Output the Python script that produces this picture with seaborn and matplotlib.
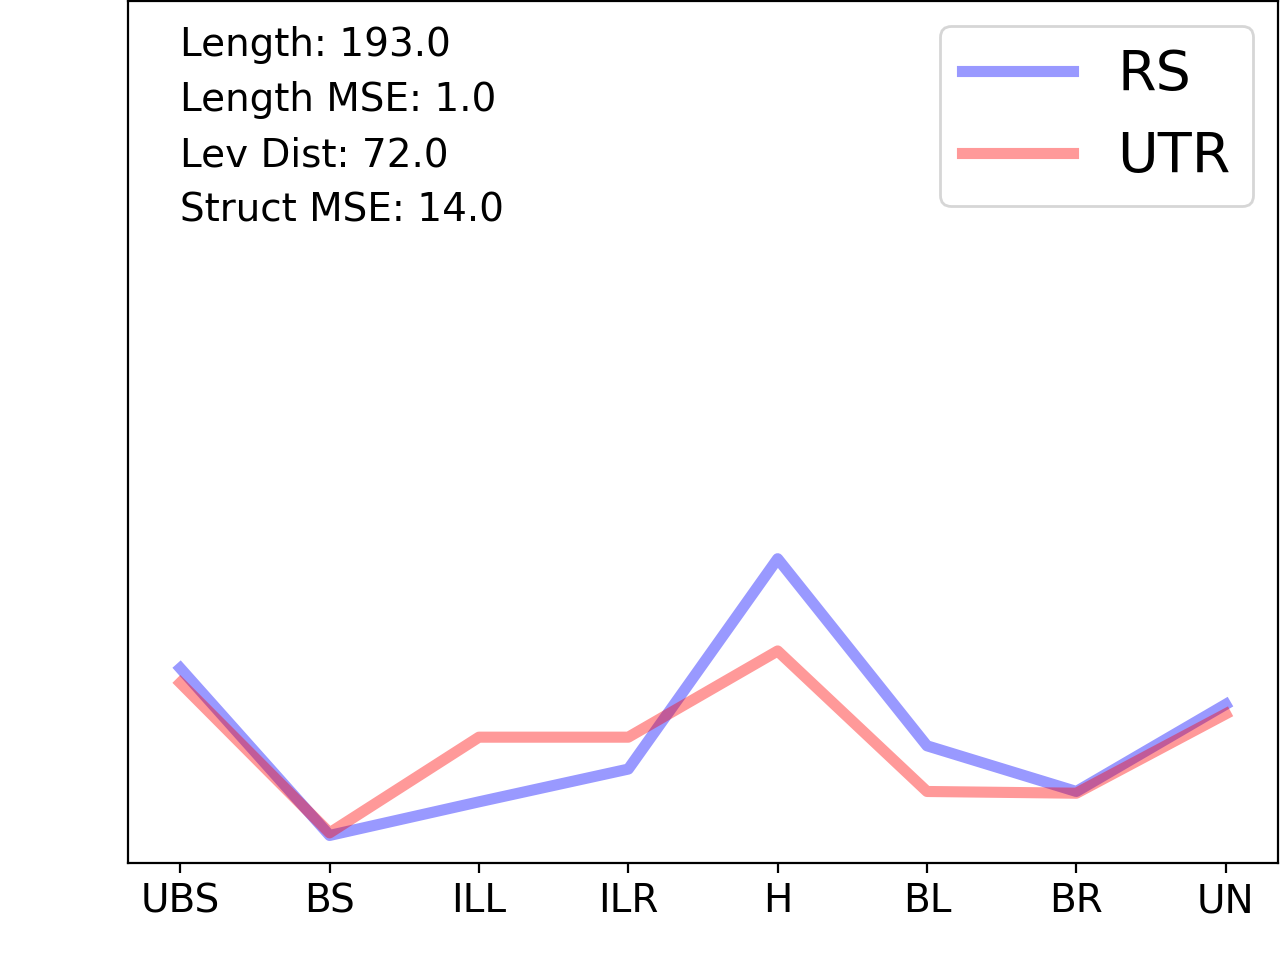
import matplotlib
matplotlib.use("Agg")
import matplotlib.pyplot as plt
import seaborn as sns
import pandas as pd

categories = ["UBS", "BS", "ILL", "ILR", "H", "BL", "BR", "UN"]
rs_values = [0.226, 0.032, 0.071, 0.109, 0.353, 0.136, 0.083, 0.184]
utr_values = [0.209, 0.035, 0.146, 0.146, 0.246, 0.083, 0.081, 0.173]
info_lines = ["Length: 193.0", "Length MSE: 1.0", "Lev Dist: 72.0", "Struct MSE: 14.0"]

df = pd.DataFrame({
    "pos": list(range(len(categories))) * 2,
    "value": rs_values + utr_values,
    "series": ["RS"] * len(categories) + ["UTR"] * len(categories),
})

plt.rcParams['font.family'] = ['DejaVu Sans']
fig, ax = plt.subplots(figsize=(6.4, 4.8), dpi=200)
fig.subplots_adjust(left=0.1, right=0.9984, bottom=0.101, top=0.999)

sns.lineplot(data=df[df.series == "RS"], x="pos", y="value", color="blue",
             alpha=0.4, lw=4, label="RS", ax=ax)
sns.lineplot(data=df[df.series == "UTR"], x="pos", y="value", color="red",
             alpha=0.4, lw=4, label="UTR", ax=ax)

ax.set_ylim(0, 1)
ax.set_yticks([])
ax.set_xticks(range(len(categories)))
ax.set_xticklabels(categories, fontsize=14)
ax.set_xlabel("")
ax.set_ylabel("")

ys = [0.936, 0.872, 0.808, 0.744]
for line, y in zip(info_lines, ys):
    ax.text(0.0452, y, line, transform=ax.transAxes, fontsize=14, va="baseline", ha="left")

ax.legend(loc="upper right", fontsize=20, handlelength=2.0, borderaxespad=0.45)

fig.savefig("out.png", dpi=200)
